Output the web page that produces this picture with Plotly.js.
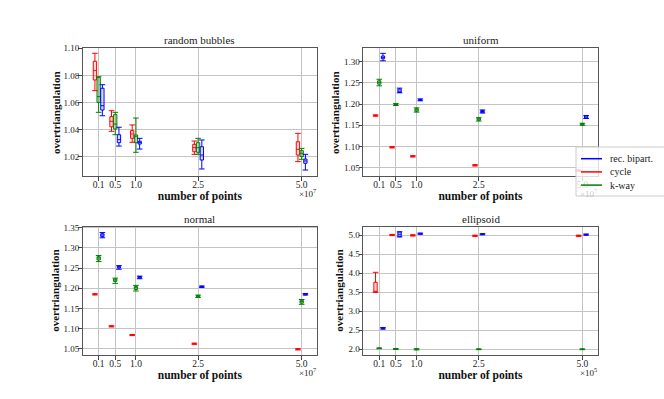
<!DOCTYPE html>
<html>
<head>
<meta charset="utf-8">
<script src="https://cdn.plot.ly/plotly-3.0.1.min.js"></script>
<style>html,body{margin:0;padding:0;background:#fff;}#chart{width:664px;height:399px;}</style>
</head>
<body>
<div id="chart"></div>
<script>
// ---- categories / ticks ----
const POSITIONS = [0.1, 0.5, 1.0, 2.5, 5.0];
const TICK_LABELS = ['0.1', '0.5', '1.0', '2.5', '5.0'];
const SERIES_NAMES = ['rec. bipart.', 'cycle', 'k-way'];
const PANEL_TITLES = ['random bubbles', 'uniform', 'normal', 'ellipsoid'];
const PANEL_EXPONENTS = ['7', '7', '7', '5'];
const X_TITLE = 'number of points';
const Y_TITLE = 'overtriangulation';

// ---- random bubbles ----
const rb_cycle_lo  = [1.0687, 1.0387, 1.0306, 1.0217, 1.0163];
const rb_cycle_q1  = [1.0766, 1.0420, 1.0335, 1.0236, 1.0212];
const rb_cycle_med = [1.0835, 1.0461, 1.0367, 1.0266, 1.0254];
const rb_cycle_q3  = [1.0904, 1.0495, 1.0392, 1.0291, 1.0310];
const rb_cycle_hi  = [1.0963, 1.0539, 1.0434, 1.0315, 1.0372];

const rb_kway_lo  = [1.0527, 1.0362, 1.0232, 1.0217, 1.0180];
const rb_kway_q1  = [1.0600, 1.0404, 1.0303, 1.0232, 1.0200];
const rb_kway_med = [1.0643, 1.0440, 1.0350, 1.0266, 1.0225];
const rb_kway_q3  = [1.0786, 1.0510, 1.0360, 1.0303, 1.0244];
const rb_kway_hi  = [1.0790, 1.0527, 1.0485, 1.0335, 1.0261];

const rb_bip_lo  = [1.0502, 1.0278, 1.0256, 1.0109, 1.0101];
const rb_bip_q1  = [1.0544, 1.0303, 1.0293, 1.0175, 1.0151];
const rb_bip_med = [1.0576, 1.0325, 1.0303, 1.0212, 1.0168];
const rb_bip_q3  = [1.0705, 1.0362, 1.0313, 1.0273, 1.0182];
const rb_bip_hi  = [1.0731, 1.0417, 1.0335, 1.0323, 1.0217];

// ---- uniform ----
const un_cycle_lo  = [1.1715, 1.0970, 1.0758, 1.0547, 1.0425];
const un_cycle_q1  = [1.1722, 1.0978, 1.0765, 1.0555, 1.0433];
const un_cycle_med = [1.1730, 1.0985, 1.0773, 1.0562, 1.0440];
const un_cycle_q3  = [1.1738, 1.0992, 1.0781, 1.0569, 1.0447];
const un_cycle_hi  = [1.1745, 1.1000, 1.0788, 1.0577, 1.0455];

const un_kway_lo  = [1.2426, 1.1965, 1.1810, 1.1600, 1.1500];
const un_kway_q1  = [1.2466, 1.1975, 1.1830, 1.1620, 1.1510];
const un_kway_med = [1.2506, 1.1989, 1.1862, 1.1650, 1.1526];
const un_kway_q3  = [1.2544, 1.2000, 1.1890, 1.1670, 1.1540];
const un_kway_hi  = [1.2580, 1.2010, 1.1910, 1.1680, 1.1550];

const un_bip_lo  = [1.3014, 1.2262, 1.2075, 1.1790, 1.1660];
const un_bip_q1  = [1.3061, 1.2270, 1.2085, 1.1795, 1.1670];
const un_bip_med = [1.3094, 1.2300, 1.2097, 1.1824, 1.1690];
const un_bip_q3  = [1.3125, 1.2350, 1.2110, 1.1850, 1.1720];
const un_bip_hi  = [1.3188, 1.2372, 1.2120, 1.1860, 1.1730];

// ---- normal ----
const no_cycle_lo  = [1.1833, 1.1040, 1.0824, 1.0609, 1.0470];
const no_cycle_q1  = [1.1840, 1.1048, 1.0832, 1.0617, 1.0478];
const no_cycle_med = [1.1848, 1.1055, 1.0839, 1.0624, 1.0485];
const no_cycle_q3  = [1.1856, 1.1062, 1.0846, 1.0631, 1.0492];
const no_cycle_hi  = [1.1863, 1.1070, 1.0854, 1.0639, 1.0500];

const no_kway_lo  = [1.2660, 1.2120, 1.1930, 1.1770, 1.1600];
const no_kway_q1  = [1.2700, 1.2170, 1.1970, 1.1780, 1.1630];
const no_kway_med = [1.2749, 1.2203, 1.2012, 1.1799, 1.1665];
const no_kway_q3  = [1.2780, 1.2230, 1.2040, 1.1820, 1.1700];
const no_kway_hi  = [1.2810, 1.2250, 1.2070, 1.1830, 1.1720];

const no_bip_lo  = [1.3250, 1.2470, 1.2235, 1.2020, 1.1830];
const no_bip_q1  = [1.3280, 1.2500, 1.2250, 1.2025, 1.1835];
const no_bip_med = [1.3319, 1.2526, 1.2270, 1.2037, 1.1848];
const no_bip_q3  = [1.3350, 1.2540, 1.2290, 1.2050, 1.1860];
const no_bip_hi  = [1.3380, 1.2560, 1.2300, 1.2055, 1.1870];

// ---- ellipsoid ----
const el_cycle_lo  = [3.496, 4.985, 4.975, 4.965, 4.965];
const el_cycle_q1  = [3.496, 4.990, 4.980, 4.970, 4.970];
const el_cycle_med = [3.510, 5.000, 4.990, 4.980, 4.980];
const el_cycle_q3  = [3.759, 5.010, 5.000, 4.990, 4.990];
const el_cycle_hi  = [4.021, 5.015, 5.005, 4.995, 4.995];

const el_kway_lo  = [2.015, 1.995, 1.985, 1.990, 1.990];
const el_kway_q1  = [2.020, 2.000, 1.990, 1.995, 1.995];
const el_kway_med = [2.026, 2.008, 2.000, 2.000, 2.000];
const el_kway_q3  = [2.030, 2.015, 2.010, 2.005, 2.005];
const el_kway_hi  = [2.035, 2.020, 2.015, 2.010, 2.010];

const el_bip_lo  = [2.530, 4.950, 5.020, 5.005, 4.995];
const el_bip_q1  = [2.535, 4.955, 5.025, 5.010, 5.000];
const el_bip_med = [2.551, 5.020, 5.035, 5.020, 5.010];
const el_bip_q3  = [2.567, 5.079, 5.045, 5.030, 5.020];
const el_bip_hi  = [2.570, 5.085, 5.050, 5.035, 5.025];

// ---- styles ----
const COLORS = {bip: '#0000ff', cycle: '#ff0000', kway: '#008000'};
const FILLS = {bip: 'rgba(0,0,255,0.15)', cycle: 'rgba(255,0,0,0.15)', kway: 'rgba(0,128,0,0.25)'};
const OFFSETS = {bip: 0.09, cycle: -0.09, kway: 0};
const FONT = 'Liberation Serif, DejaVu Serif, serif';
const YTITLE_X_PX = [56, 335, 55, 339];

const panels = [
  {xa: 'x',  ya: 'y',  data: {
    cycle: {lo: rb_cycle_lo, q1: rb_cycle_q1, med: rb_cycle_med, q3: rb_cycle_q3, hi: rb_cycle_hi},
    kway:  {lo: rb_kway_lo,  q1: rb_kway_q1,  med: rb_kway_med,  q3: rb_kway_q3,  hi: rb_kway_hi},
    bip:   {lo: rb_bip_lo,   q1: rb_bip_q1,   med: rb_bip_med,   q3: rb_bip_q3,   hi: rb_bip_hi}}},
  {xa: 'x2', ya: 'y2', data: {
    cycle: {lo: un_cycle_lo, q1: un_cycle_q1, med: un_cycle_med, q3: un_cycle_q3, hi: un_cycle_hi},
    kway:  {lo: un_kway_lo,  q1: un_kway_q1,  med: un_kway_med,  q3: un_kway_q3,  hi: un_kway_hi},
    bip:   {lo: un_bip_lo,   q1: un_bip_q1,   med: un_bip_med,   q3: un_bip_q3,   hi: un_bip_hi}}},
  {xa: 'x3', ya: 'y3', data: {
    cycle: {lo: no_cycle_lo, q1: no_cycle_q1, med: no_cycle_med, q3: no_cycle_q3, hi: no_cycle_hi},
    kway:  {lo: no_kway_lo,  q1: no_kway_q1,  med: no_kway_med,  q3: no_kway_q3,  hi: no_kway_hi},
    bip:   {lo: no_bip_lo,   q1: no_bip_q1,   med: no_bip_med,   q3: no_bip_q3,   hi: no_bip_hi}}},
  {xa: 'x4', ya: 'y4', data: {
    cycle: {lo: el_cycle_lo, q1: el_cycle_q1, med: el_cycle_med, q3: el_cycle_q3, hi: el_cycle_hi},
    kway:  {lo: el_kway_lo,  q1: el_kway_q1,  med: el_kway_med,  q3: el_kway_q3,  hi: el_kway_hi},
    bip:   {lo: el_bip_lo,   q1: el_bip_q1,   med: el_bip_med,   q3: el_bip_q3,   hi: el_bip_hi}}}
];

const traces = [];
panels.forEach(p => {
  ['cycle', 'kway', 'bip'].forEach(k => {
    const s = p.data[k];
    const xs = POSITIONS.map(v => v + OFFSETS[k]);
    traces.push({
      type: 'box', x: xs, q1: s.q1, median: s.med, q3: s.q3,
      lowerfence: s.lo, upperfence: s.hi, width: 0.08,
      line: {color: COLORS[k], width: 1}, fillcolor: FILLS[k],
      boxpoints: false, whiskerwidth: 0, showlegend: false, hoverinfo: 'skip',
      xaxis: p.xa, yaxis: p.ya
    });
    traces.push({
      type: 'scatter', mode: 'markers', x: xs.concat(xs), y: s.lo.concat(s.hi),
      marker: {symbol: 'line-ew', size: 4, line: {color: COLORS[k], width: 1}},
      showlegend: false, hoverinfo: 'skip', xaxis: p.xa, yaxis: p.ya
    });
  });
});

const W = 664, H = 399;
const colDom = [[82.7 / W, 317 / W], [363.3 / W, 597.7 / W]];
const rowDom = [[1 - 176 / H, 1 - 48 / H], [1 - 355 / H, 1 - 226.7 / H]];

function xAxis(dom, anchor) {
  return {
    domain: dom, anchor: anchor, range: [-0.285, 5.37],
    tickvals: POSITIONS, ticktext: TICK_LABELS,
    ticks: 'outside', ticklen: 3.5, tickcolor: '#444', tickwidth: 1, ticklabelstandoff: -4,
    showgrid: true, gridcolor: '#c4c4c4', gridwidth: 1, zeroline: false,
    showline: true, mirror: true, linecolor: '#555', linewidth: 1.2,
    tickfont: {family: FONT, size: 9.5, color: '#222'},
    title: {text: '<b>' + X_TITLE + '</b>', font: {family: FONT, size: 11.5, color: '#111'}, standoff: 0}
  };
}
function yAxis(dom, anchor, range, dtick, fmt) {
  return {
    domain: dom, anchor: anchor, range: range, dtick: dtick, tick0: 0, tickformat: fmt,
    ticks: 'outside', ticklen: 3.5, tickcolor: '#444', tickwidth: 1, ticklabelstandoff: -3,
    showgrid: true, gridcolor: '#c4c4c4', gridwidth: 1, zeroline: false,
    showline: true, mirror: true, linecolor: '#555', linewidth: 1.2,
    tickfont: {family: FONT, size: 9, color: '#222'}
  };
}

const annotations = [];
const shapes = [];
const doms = [[colDom[0], rowDom[0]], [colDom[1], rowDom[0]], [colDom[0], rowDom[1]], [colDom[1], rowDom[1]]];
doms.forEach((d, i) => {
  annotations.push({xref: 'paper', yref: 'paper', x: (d[0][0] + d[0][1]) / 2, y: d[1][1],
    yanchor: 'bottom', xanchor: 'center', showarrow: false,
    text: PANEL_TITLES[i], font: {family: FONT, size: 11, color: '#222'}});
  annotations.push({xref: 'paper', yref: 'paper', x: d[0][1] + 1 / W, y: d[1][0] - 17 / H,
    yanchor: 'middle', xanchor: 'right', showarrow: false, opacity: i === 1 ? 0.25 : 1,
    text: '×10<sup>' + PANEL_EXPONENTS[i] + '</sup>', font: {family: FONT, size: 9, color: '#222'}});
  annotations.push({xref: 'paper', yref: 'paper', x: YTITLE_X_PX[i] / W, y: (d[1][0] + d[1][1]) / 2,
    xanchor: 'center', yanchor: 'middle', textangle: -90, showarrow: false,
    text: '<b>' + Y_TITLE + '</b>', font: {family: FONT, size: 11, color: '#111'}});
});

// legend box (drawn like matplotlib's: tight rows, line samples)
const LEG_X0 = 576, LEG_Y0 = 147, LEG_Y1 = 196;
shapes.push({type: 'rect', xref: 'paper', yref: 'paper', layer: 'above',
  x0: LEG_X0 / W, x1: 1.05, y0: 1 - LEG_Y1 / H, y1: 1 - LEG_Y0 / H,
  fillcolor: 'rgba(255,255,255,0.8)', line: {color: '#cccccc', width: 1}});
const LEG_KEYS = ['bip', 'cycle', 'kway'];
LEG_KEYS.forEach((k, i) => {
  const yc = 1 - (158.7 + i * 13.2) / H;
  shapes.push({type: 'line', xref: 'paper', yref: 'paper', layer: 'above',
    x0: 581 / W, x1: 602 / W, y0: yc, y1: yc, line: {color: COLORS[k], width: 1.5}});
  annotations.push({xref: 'paper', yref: 'paper', x: 608 / W, y: yc, xanchor: 'left', yanchor: 'middle',
    showarrow: false, text: SERIES_NAMES[i], font: {family: FONT, size: 10, color: '#222'}});
});

const layout = {
  width: W, height: H,
  margin: {l: 0, r: 0, t: 0, b: 0, autoexpand: false},
  paper_bgcolor: '#fff', plot_bgcolor: '#fff',
  showlegend: false, boxmode: 'overlay',
  xaxis: xAxis(colDom[0], 'y'), yaxis: yAxis(rowDom[0], 'x', [1.0057, 1.1002], 0.02, '.2f'),
  xaxis2: xAxis(colDom[1], 'y2'), yaxis2: yAxis(rowDom[0], 'x2', [1.0312, 1.3313], 0.05, '.2f'),
  xaxis3: xAxis(colDom[0], 'y3'), yaxis3: yAxis(rowDom[1], 'x3', [1.0344, 1.3525], 0.05, '.2f'),
  xaxis4: xAxis(colDom[1], 'y4'), yaxis4: yAxis(rowDom[1], 'x4', [1.85, 5.218], 0.5, '.1f'),
  annotations: annotations, shapes: shapes
};

Plotly.newPlot('chart', traces, layout, {staticPlot: true, displayModeBar: false});
</script>
</body>
</html>
